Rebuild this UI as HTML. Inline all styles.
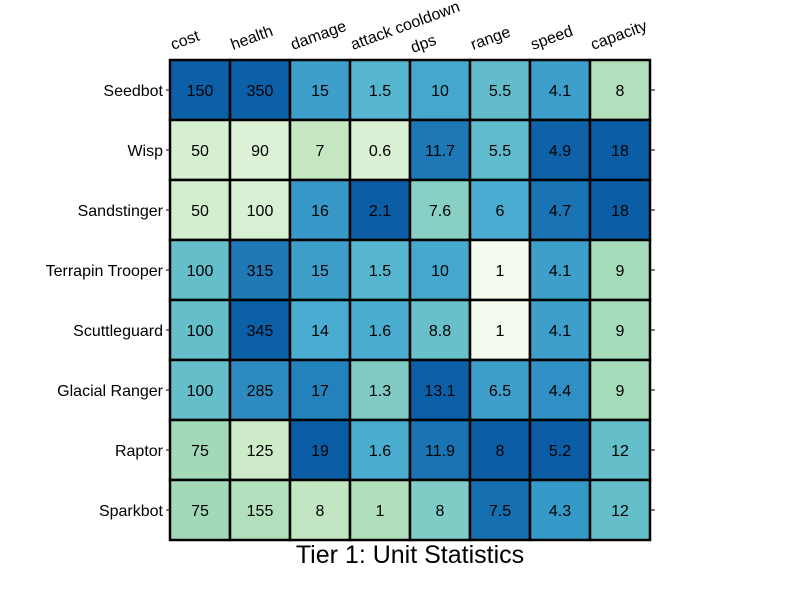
<!DOCTYPE html><html><head><style>body{margin:0;background:#fff}svg text{font-family:"Liberation Sans",sans-serif}</style></head><body>
<svg width="800" height="600" xmlns="http://www.w3.org/2000/svg">
<g id="cells"></g>
<g font-size="16" text-anchor="middle" id="vals"></g>
<g font-size="16" text-anchor="end" id="rows"></g>
<g font-size="16" id="cols"></g>
<text x="410" y="563" font-size="25" text-anchor="middle">Tier 1: Unit Statistics</text>
<script>
var C=[["#0b60a8","#0b60a8","#3f9fcb","#56b6d0","#46a8cd","#62bccb","#3f9fcb","#b2e0bd"],
["#d6efd0","#def2d8","#c5e8c3","#dbf1d5","#1e78b6","#5fbcce","#0f62a8","#0b5ea5"],
["#d3eecd","#d8f0d3","#3898c8","#0b5ea5","#88d0c3","#4aacd0","#1a73b2","#0b5ea5"],
["#64bfcb","#1f79b7","#3f9fcb","#56b6d0","#46a8cd","#f3faee","#3f9fcb","#a6dbbb"],
["#64bfcb","#0b60a8","#4aacd0","#4aadd0","#67c0ca","#f3faee","#3f9fcb","#a6dbbb"],
["#64bfcb","#2e8bc0","#2381bc","#80ccc5","#0b60a8","#3f9fcb","#3190c3","#a6dbbb"],
["#a2dab9","#cdebc8","#0b5ea5","#4aadd0","#1a73b2","#0b5ea5","#0b5ea5","#64bfcb"],
["#a2dab9","#b1e0bc","#c2e6c2","#afdfbb","#7fcbc5","#1670b0","#3599c8","#64bfcb"]];
var V=[["150","350","15","1.5","10","5.5","4.1","8"],["50","90","7","0.6","11.7","5.5","4.9","18"],["50","100","16","2.1","7.6","6","4.7","18"],["100","315","15","1.5","10","1","4.1","9"],["100","345","14","1.6","8.8","1","4.1","9"],["100","285","17","1.3","13.1","6.5","4.4","9"],["75","125","19","1.6","11.9","8","5.2","12"],["75","155","8","1","8","7.5","4.3","12"]];
var R=["Seedbot","Wisp","Sandstinger","Terrapin Trooper","Scuttleguard","Glacial Ranger","Raptor","Sparkbot"];
var K=["cost","health","damage","attack cooldown","dps","range","speed","capacity"];
var ns="http://www.w3.org/2000/svg";
function el(p,t,a,txt){var e=document.createElementNS(ns,t);for(var k in a)e.setAttribute(k,a[k]);if(txt)e.textContent=txt;document.getElementById(p).appendChild(e);}
for(var r=0;r<8;r++){for(var c=0;c<8;c++){el("cells","rect",{x:170+c*60,y:60+r*60,width:60,height:60,fill:C[r][c],stroke:"#000","stroke-width":2.5});
el("vals","text",{x:200+c*60,y:96+r*60},V[r][c]);}
el("rows","text",{x:163,y:96+r*60},R[r]);
el("cells","line",{x1:166,x2:170,y1:90+r*60,y2:90+r*60,stroke:"#000","stroke-width":1});
el("cells","line",{x1:651,x2:655,y1:90+r*60,y2:90+r*60,stroke:"#000","stroke-width":1});}
for(var c=0;c<8;c++){var x=173+c*60,y=50;if(c==4){x=413;y=53;}el("cols","text",{x:x,y:y,transform:"rotate(-20 "+x+" "+y+")"},K[c]);}
</script>
</svg></body></html>
